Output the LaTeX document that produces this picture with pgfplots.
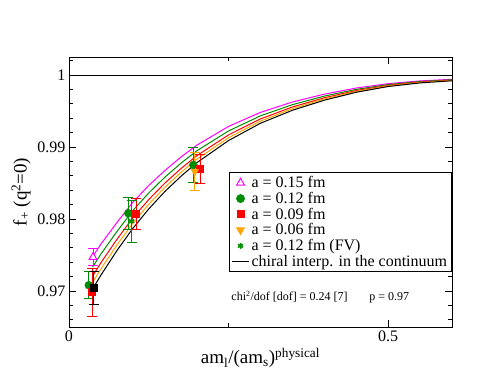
\documentclass[border=0pt]{standalone}
\usepackage{fontspec}
\setmainfont{Liberation Serif}
\usepackage{pgfplots}
\pgfplotsset{compat=1.18}
\definecolor{gmag}{RGB}{255,0,255}
\definecolor{ggreen}{RGB}{0,140,0}
\definecolor{gorange}{RGB}{255,165,0}
\begin{document}
\begin{tikzpicture}
\useasboundingbox (0,0) rectangle (498pt,385pt);
\begin{axis}[at={(69pt,58pt)}, anchor=south west, scale only axis,
  width=383pt, height=270pt,
  xmin=0, xmax=0.6, ymin=0.965, ymax=1.0025,
  xtick={0,0.5}, minor xtick={0.25},
  ytick={0.97,0.98,0.99,1},
  minor ytick={0.966,0.968,0.972,0.974,0.976,0.978,0.982,0.984,0.986,0.988,0.992,0.994,0.996,0.998,1.002},
  major tick length=7pt, minor tick length=4pt,
  tick style={black, line width=0.8pt},
  axis line style={line width=0.8pt},
  /pgf/number format/assume math mode=true,
  ticklabel style={font=\fontsize{16}{16}\selectfont},
  yticklabel style={/pgf/number format/fixed, /pgf/number format/precision=2},
  xticklabel style={/pgf/number format/fixed},
  xlabel={am\textsubscript{l}/(am\textsubscript{s})\textsuperscript{physical}},
  ylabel={f\textsubscript{+} (q\textsuperscript{2}=0)},
  label style={font=\fontsize{19}{19}\selectfont},
  legend style={at={(0.418,0.574)}, anchor=north west, draw=black, line width=0.8pt,
    font=\fontsize{16}{16.5}\selectfont, row sep=-1pt, inner sep=2pt},
  legend cell align=left,
  error bars/y dir=both, error bars/y explicit,
  error bars/error bar style={line width=1pt},
  error bars/error mark options={rotate=90, mark size=5pt, line width=1pt},
]
% y = 1 reference line
\addplot[black, line width=0.8pt, forget plot] coordinates {(0,1) (0.6,1)};
% fit curves for each lattice spacing
\addplot[gmag, line width=1pt, forget plot] coordinates {
 (0.037,0.97476) (0.05,0.97651) (0.075,0.97950) (0.1,0.98232) (0.125,0.98466) (0.15,0.98672)
 (0.175,0.98858) (0.2,0.99024) (0.25,0.99286) (0.3,0.99481) (0.35,0.99625) (0.4,0.99734)
 (0.45,0.99819) (0.5,0.99880) (0.55,0.99918) (0.6,0.99940)};
\addplot[ggreen, line width=1pt, forget plot] coordinates {
 (0.037,0.97333) (0.05,0.97513) (0.075,0.97825) (0.1,0.98116) (0.125,0.98362) (0.15,0.98579)
 (0.175,0.98772) (0.2,0.98946) (0.25,0.99223) (0.3,0.99433) (0.35,0.99588) (0.4,0.99707)
 (0.45,0.99800) (0.5,0.99867) (0.55,0.99909) (0.6,0.99934)};
\addplot[red, line width=1pt, forget plot] coordinates {
 (0.037,0.97208) (0.05,0.97392) (0.075,0.97716) (0.1,0.98015) (0.125,0.98270) (0.15,0.98497)
 (0.175,0.98697) (0.2,0.98878) (0.25,0.99168) (0.3,0.99390) (0.35,0.99556) (0.4,0.99684)
 (0.45,0.99784) (0.5,0.99856) (0.55,0.99901) (0.6,0.99928)};
\addplot[gorange, line width=1pt, forget plot] coordinates {
 (0.037,0.97119) (0.05,0.97306) (0.075,0.97638) (0.1,0.97942) (0.125,0.98205) (0.15,0.98438)
 (0.175,0.98644) (0.2,0.98829) (0.25,0.99129) (0.3,0.99360) (0.35,0.99533) (0.4,0.99667)
 (0.45,0.99772) (0.5,0.99848) (0.55,0.99896) (0.6,0.99924)};
\addplot[black, line width=1pt, forget plot] coordinates {
 (0.037,0.97030) (0.05,0.97220) (0.075,0.97560) (0.1,0.97870) (0.125,0.98140) (0.15,0.98380)
 (0.175,0.98590) (0.2,0.98780) (0.25,0.99090) (0.3,0.99330) (0.35,0.99510) (0.4,0.99650)
 (0.45,0.99760) (0.5,0.99840) (0.55,0.99890) (0.6,0.99920)};
% data points
\addplot[gmag, only marks, mark=triangle*, mark size=4.5pt, mark options={fill=white, line width=1pt}]
 coordinates {(0.0376,0.9747) +- (0,0.0012)};
\addlegendentry{a = 0.15 fm}
\addplot[ggreen, only marks, mark=*, mark size=4pt]
 coordinates {(0.031,0.9708) +- (0,0.0019) (0.093,0.9808) +- (0,0.0022) (0.1948,0.9875) +- (0,0.0024)};
\addlegendentry{a = 0.12 fm}
\addplot[red, only marks, mark=square*, mark size=3.5pt, mark options={fill=red, line width=1pt}]
 coordinates {(0.0365,0.9698) +- (0,0.0033) (0.105,0.9807) +- (0,0.0022) (0.2053,0.9869) +- (0,0.0020)};
\addlegendentry{a = 0.09 fm}
\addplot[gorange, only marks, mark=triangle*, mark size=4.5pt, mark options={rotate=180}]
 coordinates {(0.197,0.9866) +- (0,0.0027)};
\addlegendentry{a = 0.06 fm}
\addplot[ggreen, only marks, mark=asterisk, mark size=3pt, mark options={line width=1.5pt}]
 coordinates {(0.098,0.9797) +- (0,0.0029)};
\addlegendentry{a = 0.12 fm (FV)}
\addplot[black, only marks, mark=square*, mark size=3.5pt, forget plot]
 coordinates {(0.039,0.9704) +- (0,0.0023)};
\addlegendimage{black, line width=1pt}
\addlegendentry{chiral interp. in the continuum}
\node[anchor=west, font=\fontsize{12}{12}\selectfont] at (axis cs:0.249,0.96917)
 {chi\textsuperscript{2}/dof [dof] = 0.24 [7]\hspace{1.8em}p = 0.97};
\end{axis}
\end{tikzpicture}
\end{document}
